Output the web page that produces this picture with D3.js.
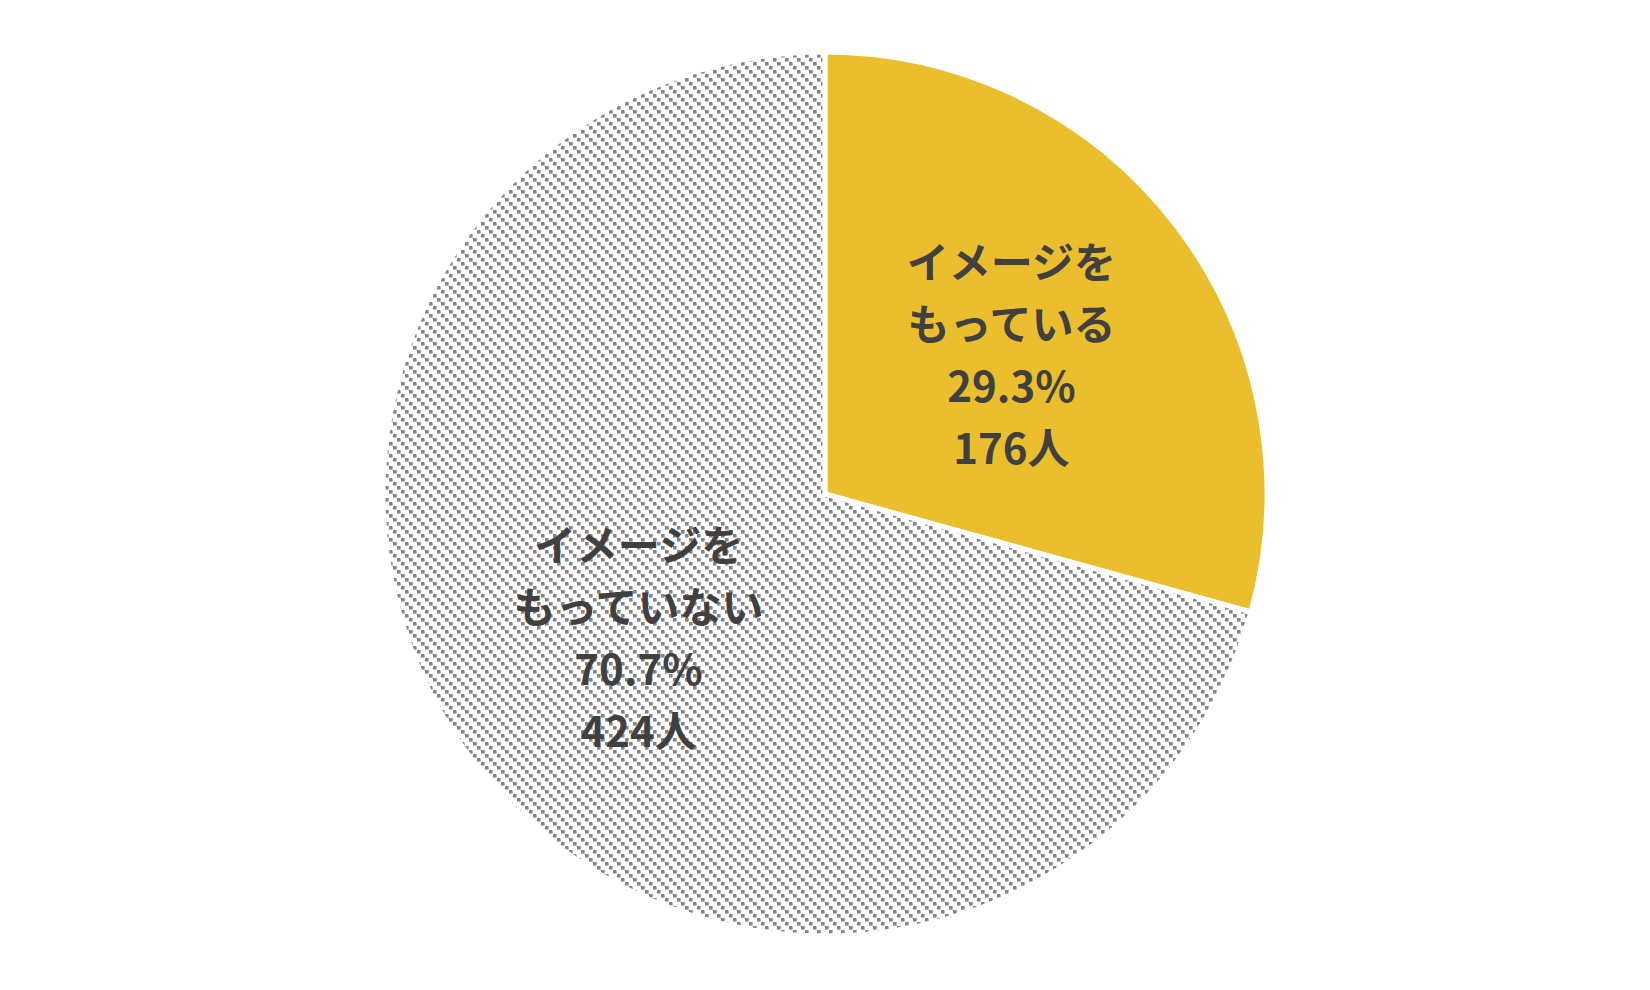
<!DOCTYPE html>
<html>
<head>
<meta charset="utf-8">
<script src="https://cdn.jsdelivr.net/npm/d3@7"></script>
<style>
  html, body { margin: 0; padding: 0; background: #fff; }
</style>
</head>
<body>
<div id="chart"></div>
<script>
// Data
const categories = ['イメージをもっている', 'イメージをもっていない']
const labelLines = [
  ['イメージを', 'もっている'],
  ['イメージを', 'もっていない'],
]
const percents = [29.3, 70.7]
const counts = [176, 424]

const width = 1650
const height = 990
const cx = 825
const cy = 494
const radius = 442

const svg = d3.select('#chart')
  .append('svg')
  .attr('width', width)
  .attr('height', height)
  .style('font-family', '"Noto Sans CJK JP", "Noto Sans", sans-serif')

// dotted downward diagonal hatch for the second slice
const defs = svg.append('defs')
const pat = defs.append('pattern')
  .attr('id', 'hatch')
  .attr('patternUnits', 'userSpaceOnUse')
  .attr('width', 12).attr('height', 12)
pat.append('rect').attr('width', 12).attr('height', 12).attr('fill', '#fff')
d3.range(3).forEach(i => {
  pat.append('rect')
    .attr('x', i * 4).attr('y', i * 4)
    .attr('width', 3.6).attr('height', 3.6)
    .attr('fill', '#858585')
})

const fills = ['#EBBE2E', 'url(#hatch)']

const pie = d3.pie().sort(null).value(d => d)
const arcs = pie(percents)

const arc = d3.arc().innerRadius(0).outerRadius(radius)
const labelArc = d3.arc().innerRadius(radius * 0.53).outerRadius(radius * 0.53)

const g = svg.append('g').attr('transform', `translate(${cx},${cy})`)

g.selectAll('path.slice')
  .data(arcs)
  .join('path')
  .attr('class', 'slice')
  .attr('d', arc)
  .attr('fill', (d, i) => fills[i])
  .attr('stroke', '#fff')
  .attr('stroke-width', 5)
  .attr('stroke-linejoin', 'miter')

// labels: name (two lines), percent, count
const lineGap = 62
arcs.forEach((d, i) => {
  const [lx, ly] = labelArc.centroid(d)
  const lines = [...labelLines[i], `${percents[i].toFixed(1)}%`, `${counts[i]}人`]
  const t = g.append('text')
    .attr('text-anchor', 'middle')
    .attr('font-size', '42px')
    .attr('font-weight', 'bold')
    .attr('fill', '#404040')
  lines.forEach((ln, k) => {
    t.append('tspan')
      .attr('x', lx)
      .attr('y', ly + (k - (lines.length - 1) / 2) * lineGap)
      .attr('dominant-baseline', 'central')
      .text(ln)
  })
})
</script>
</body>
</html>
